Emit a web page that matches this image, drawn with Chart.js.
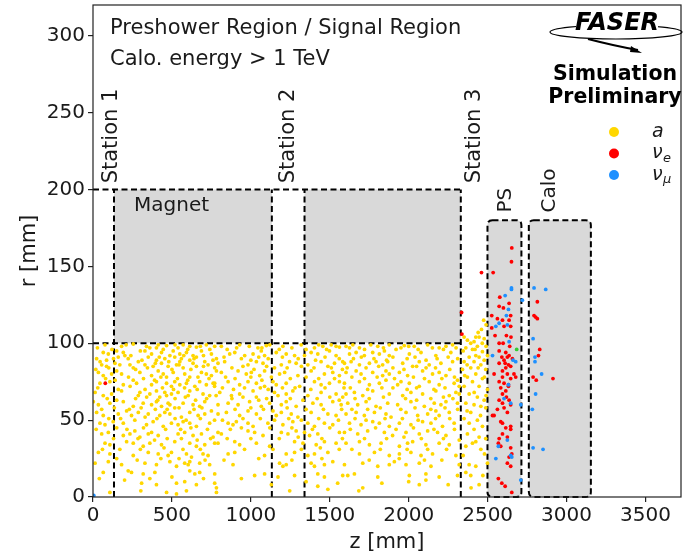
<!DOCTYPE html>
<html>
<head>
<meta charset="utf-8">
<script src="https://cdn.jsdelivr.net/npm/chart.js@4.4.1/dist/chart.umd.min.js"></script>
<style>
  html, body { margin: 0; padding: 0; background: #fff; }
  canvas { display: block; }
</style>
</head>
<body>
<canvas id="c" width="685" height="556"></canvas>
<script>
// ALP signal (a): [z, r] in mm
var aPoints = [
  [76,99],[181,98],[255,99.5],[339,98],[402,97],[413,99],[466,98.5],[539,97],[571,99],[613,98],[655,97.5],[718,99],[771,98],
  [65,94],[97,93],[150,95],[192,94],[202,92],[329,95],[371,93],[434,94],[487,92],[508,95],[550,93],[592,94],[634,92],[687,95],[750,93],
  [23,90],[86,89],[160,91],[223,90],[287,88],[350,91],[402,89],[455,90],[518,91],[550,88],[560,90],[613,89],[655,91],[708,88],[782,90],
  [55,86],[86,85],[139,87],[234,86],[255,84],[329,86],[381,85],[434,87],[476,85],[529,86],[571,84],[634,87],[655,85],[729,86],[771,84],
  [34,81],[65,79],[118,80],[150,82],[181,80],[297,81],[371,79],[413,82],[445,80],[466,78],[508,81],[581,80],[613,78],[687,81],[718,80],[750,79],[782,82],
  [44,74],[107,75],[192,73],[255,76],[276,74],[371,73],[402,75],[466,74],[497,72],[518,75],[550,73],[592,74],[645,72],[676,75],[718,73],[761,74],
  [13,68],[65,66],[118,67],[181,69],[287,66],[297,68],[360,67],[402,69],[423,65],[455,68],[466,66],[497,67],[539,68],[603,66],[613,69],[697,67],[739,66],
  [2,62],[34,60],[107,61],[192,62],[255,59],[318,61],[371,60],[402,62],[434,59],[476,61],[487,60],[518,58],[571,61],[634,60],[676,59],[708,62],[792,60],
  [23,55],[65,53],[160,54],[213,56],[244,53],[287,55],[350,54],[423,53],[455,55],[487,54],[560,52],[613,55],[666,53],[708,54],[750,56],
  [44,48],[76,47],[128,49],[192,48],[339,47],[381,49],[445,46],[497,48],[539,47],[571,49],[613,48],[655,46],[739,48],
  [55,41],[97,42],[192,40],[234,41],[265,43],[297,39],[350,41],[371,42],[413,40],[539,41],[581,42],[634,40],[687,41],[761,39],
  [76,35],[107,34],[213,36],[255,35],[318,33],[360,35],[434,34],[518,36],[613,35],[655,33],[708,34],[771,35],
  [34,29],[107,28],[255,27],[350,29],[413,28],[476,27],[497,29],[592,28],[624,26],[697,28],[729,27],
  [13,22],[97,23],[181,21],[329,22],[402,21],[487,23],[529,20],[581,22],[603,21],[613,23],[676,22],[739,21],
  [65,16],[223,17],[244,16],[318,15],[392,16],[613,17],[645,15],[676,16],[771,15],
  [308,9],[402,8],[529,9],[581,10],[655,8],[771,9],
  [107,3],[303,4],[466,3],[529,2],[592,4],[782,3],
  [28,97],[120,96],[210,99],[300,95],[360,97],[445,96],[520,99],[600,96],[680,98],[740,96],
  [45,88],[130,90],[240,92],[310,89],[420,91],[480,88],[575,92],[640,90],[700,92],[760,89],
  [18,83],[100,84],[170,86],[270,83],[345,84],[395,87],[500,83],[545,86],[620,83],[700,85],
  [80,77],[140,76],[225,78],[320,77],[390,76],[430,78],[535,77],[600,76],[665,78],[735,77],
  [30,71],[160,70],[235,72],[330,70],[440,71],[510,70],[580,71],[660,70],[770,72],
  [90,64],[150,63],[270,64],[340,65],[410,63],[520,64],[585,65],[650,63],[720,64],[780,66],
  [55,57],[135,58],[230,57],[305,58],[395,57],[470,57],[545,58],[640,57],[690,58],
  [100,51],[175,51],[265,50],[330,52],[405,51],[520,51],[590,50],[680,51],[770,50],
  [20,44],[150,45],[215,44],[320,45],[460,44],[555,44],[620,45],[725,44],
  [130,38],[285,38],[390,37],[470,38],[560,38],[660,37],[745,38],
  [60,31],[170,31],[300,31],[450,32],[570,31],[680,31],
  [150,25],[280,24],[430,25],[545,25],[710,24],
  [40,12],[200,11],[360,12],[500,13],[700,12],

  [813,98],[929,99],[1045,97],[1098,98.5],[1203,98],[1319,99],[1403,97],[1456,98],[1509,99],[1561,97.5],
  [866,93],[898,94],[961,92],[1014,93],[1066,95],[1087,92],[1161,94],[1224,93],[1277,92],[1382,94],[1424,93],[1498,95],[1540,92],
  [792,87],[834,88],[982,86],[1035,88],[1077,87],[1193,86],[1245,88],[1287,87],[1361,86],[1445,88],[1488,85],[1530,87],[1582,88],
  [813,81],[919,82],[971,80],[1003,81],[1056,79],[1087,82],[1182,80],[1214,81],[1298,79],[1382,82],[1466,80],[1519,81],[1561,79],
  [771,74],[856,75],[929,73],[982,75],[1035,74],[1087,72],[1140,75],[1161,73],[1224,74],[1309,72],[1403,75],[1445,73],[1498,74],[1561,75],
  [803,68],[877,66],[929,67],[1014,69],[1035,65],[1150,68],[1172,66],[1224,67],[1266,69],[1361,66],[1445,68],[1540,67],[1582,65],
  [856,61],[919,60],[992,62],[1066,59],[1119,61],[1193,60],[1224,62],[1287,59],[1393,61],[1445,60],[1519,62],[1572,60],
  [792,54],[845,55],[929,53],[982,56],[1035,54],[1161,53],[1193,55],[1256,54],[1298,52],[1382,55],[1488,54],[1540,53],
  [856,48],[887,47],[908,49],[982,48],[1014,46],[1108,48],[1203,47],[1266,49],[1361,48],[1403,46],[1466,48],[1519,47],
  [792,42],[813,41],[982,43],[1024,42],[1077,40],[1193,42],[1235,41],[1287,43],[1340,42],[1372,40],[1424,41],[1561,42],
  [792,35],[898,36],[929,34],[1035,35],[1119,33],[1277,36],[1330,35],[1414,34],[1466,36],[1540,35],
  [856,28],[898,29],[1087,27],[1224,28],[1277,29],[1361,27],[1403,28],[1488,29],
  [887,21],[1182,22],[1203,20],[1224,21],[1382,22],[1403,20],[1466,21],[1519,23],
  [1024,14],[1087,15],[1172,13],[1277,14],[1424,15],[1466,13],[1582,14],
  [782,6],[1246,4],[1424,7],[1488,5],
  [850,96],[910,97],[990,98],[1070,97],[1120,99],[1180,96],[1260,97],[1350,96],[1430,99],[1480,96],[1540,98],
  [830,91],[940,90],[1000,89],[1050,91],[1110,90],[1200,91],[1300,90],[1340,92],[1410,89],[1470,91],[1560,90],
  [880,84],[950,85],[1020,83],[1100,85],[1150,84],[1230,84],[1320,85],[1400,84],[1510,84],[1580,83],
  [840,78],[900,77],[1000,78],[1070,76],[1130,78],[1250,77],[1350,78],[1430,77],[1530,77],
  [820,71],[890,70],[960,71],[1060,71],[1110,70],[1200,71],[1280,71],[1380,70],[1470,71],[1590,71],
  [880,64],[950,65],[1050,63],[1100,64],[1250,64],[1330,63],[1420,64],[1500,65],[1560,63],
  [900,57],[1000,58],[1080,57],[1140,56],[1230,58],[1350,57],[1460,57],[1575,57],
  [820,50],[950,51],[1060,51],[1150,50],[1240,51],[1320,50],[1430,51],[1555,50],
  [870,44],[940,45],[1120,45],[1260,45],[1390,44],[1500,45],
  [850,38],[1000,38],[1180,38],[1300,39],[1450,38],[1580,38],
  [960,31],[1140,31],[1320,31],[1440,32],[1560,31],
  [830,24],[1050,25],[1260,24],[1450,25],
  [940,12],[1130,8],[1350,10],[1550,9],

  [1603,98],[1646,99],[1688,97],[1804,98],[1877,99],[1951,97],[1972,98.5],[2035,98],[2120,99],[2193,97],[2236,98],[2278,99],
  [1625,93],[1667,94],[1719,92],[1772,94],[1814,93],[1846,95],[1877,92],[2004,93],[2078,94],[2172,92],[2267,94],
  [1593,87],[1635,88],[1688,86],[1751,87],[1793,88],[1835,86],[1867,88],[1962,87],[2025,85],[2067,88],[2130,86],[2204,87],[2278,88],
  [1603,81],[1667,82],[1698,80],[1772,81],[1835,79],[1856,82],[1877,80],[1941,81],[1993,79],[2088,82],[2151,80],[2193,81],[2236,79],
  [1593,74],[1688,75],[1751,73],[1814,74],[1856,76],[1930,73],[1951,75],[2004,74],[2067,72],[2130,75],[2193,73],[2288,74],[2309,76],
  [1603,67],[1656,68],[1709,66],[1772,69],[1877,67],[1962,66],[2014,68],[2088,67],[2172,69],[2257,66],[2299,68],[2320,67],
  [1614,61],[1677,60],[1730,62],[1793,59],[1867,61],[1930,60],[2014,62],[2099,59],[2162,61],[2204,60],[2236,62],[2309,61],
  [1603,54],[1667,55],[1719,53],[1783,55],[1856,54],[1888,52],[1983,55],[2057,53],[2120,54],[2172,56],[2193,53],[2257,55],
  [1625,48],[1698,47],[1772,49],[1814,48],[1877,46],[1941,48],[2014,47],[2088,49],[2141,48],[2214,46],[2288,48],
  [1593,42],[1677,41],[1740,43],[1846,42],[1898,40],[1983,42],[2067,41],[2120,43],[2183,42],[2236,40],
  [1603,35],[1688,36],[1751,34],[1825,35],[1941,33],[1993,35],[2025,36],[2109,34],[2193,35],[2257,34],
  [1688,28],[1783,29],[1877,27],[1941,28],[2014,29],[2078,27],[2151,28],[2299,27],
  [1593,21],[1709,22],[1804,20],[1877,21],[1909,23],[1983,21],[2067,22],[2141,20],[2320,21],
  [1614,14],[1656,15],[1804,13],[2004,14],[2109,15],[2193,13],[2309,14],
  [1709,6],[2067,8],[2109,11],[1684,4],
  [1625,97],[1720,96],[1760,99],[1840,97],[1920,96],[2000,98],[2060,96],[2150,97],[2220,96],[2300,97],
  [1650,90],[1700,91],[1780,90],[1860,89],[1900,91],[1990,90],[2040,91],[2110,89],[2180,90],[2250,91],[2310,90],
  [1610,84],[1730,84],[1810,85],[1900,84],[1970,83],[2050,85],[2110,84],[2170,84],[2260,83],
  [1640,78],[1720,77],[1800,78],[1910,77],[2030,78],[2100,77],[2210,77],[2290,78],
  [1630,71],[1740,70],[1830,71],[1900,71],[1990,70],[2050,71],[2160,70],[2230,71],[2320,72],
  [1660,64],[1750,64],[1840,65],[1980,64],[2050,63],[2140,64],[2220,65],[2280,64],
  [1640,57],[1740,57],[1820,58],[1950,57],[2040,58],[2140,57],[2230,58],[2310,57],
  [1660,51],[1730,50],[1850,51],[1960,51],[2060,50],[2170,51],[2260,51],
  [1630,44],[1790,45],[1920,44],[2030,45],[2160,44],[2290,44],
  [1720,38],[1860,38],[1970,39],[2080,38],[2220,38],[2320,37],
  [1640,31],[1820,31],[1990,31],[2120,31],[2240,31],
  [1750,24],[1940,25],[2100,24],[2210,24],
  [1830,9],[2000,10],[2250,8],

  [2351,104],[2372,102],[2393,100],[2414,101],[2446,104],[2478,103],[2362,97],[2404,96],[2435,98],[2467,94.5],
  [2425,92],[2383,91],[2446,91],[2478,89],[2499,92],[2351,88],[2414,88],[2457,86],[2393,84],[2341,83],[2488,83],
  [2425,80],[2372,78],[2467,77],[2404,75],[2351,72],[2446,72],[2499,70],[2383,67],[2435,65],[2478,63],[2362,61],
  [2414,60],[2457,59],[2488,58],[2393,55],[2351,51],[2435,50],[2383,48],[2467,46],[2414,44],[2372,41],[2446,39],
  [2488,38],[2404,35],[2362,33],[2457,31],[2499,22],[2383,21],[2425,20],[2362,16],[2393,14],[2446,8],
  [2461,109],[2490,112],[2475,115],[2440,107],[2425,104],[2466,100],
  [2345,95],[2420,96],[2490,98],[2370,86],[2440,84],[2480,78],[2355,79],[2415,68],[2490,66],[2455,53],
  [2370,56],[2425,36],[2480,28],[2345,27],[2470,14],[2395,6]
];

// electron neutrino (nu_e)
var nuePoints = [
  [2653,162],[2651,153],[2461,146],[2535,146],[2577,130],[2636,126],[2573,124],[2600,123],[2526,118],[2646,118],
  [2562,116],[2594,115],[2636,115],[2526,110],[2604,111],[2646,111],[2547,105],[2619,105],[2648,104],[2573,100],
  [2598,100],[2640,98],[2573,95],[2615,94],[2636,92],[2590,91],[2625,91],[2657,90],[2604,89],[2573,87],
  [2611,87],[2632,86],[2646,85],[2615,84],[2594,82],[2541,80],[2625,80],[2667,80],[2678,78],[2594,78],[2646,77],
  [2573,75],[2604,74],[2632,73],[2632,72],[2583,71],[2615,69],[2594,67],[2619,65],[2573,63],[2636,63],[2594,61],
  [2646,60],[2604,58],[2562,57],[2625,55],[2531,53],[2541,53],[2583,49],[2594,48],[2646,46],[2615,45],[2646,44],
  [2594,41],[2625,39],[2573,38],[2568,35],[2583,33],[2646,32],[2653,28],[2636,26],[2625,22],[2646,20],
  [2568,12],[2590,9],[2611,7],[2653,3],
  [2335,120],[2337,106],[78,74],
  [2815,127],[2794,118],[2804,117],[2815,116],[2830,96],[2822,92],[2788,78],[2808,76],[2914,77]
];

// muon neutrino (nu_mu)
var numuPoints = [
  [2651,136],[2651,135],[2611,131],[2720,128],[2632,122],[2619,118],[2573,113],[2552,111],[2625,112],[2636,101],
  [2531,92],[2678,88],[2661,89],[2632,73],[2646,61],[2604,64],[2710,60],[2625,37],[2568,33],[2552,25],[2646,27],
  [2710,11],[2653,26],
  [2794,136],[2868,135],[2788,103],[2800,91],[2800,88],[2842,80],[2804,67],[2783,57],[2788,32],[2851,31],
  [5,1]
];

// one stray event of another kind
var otherPoints = [[2684,96]];

// detector layout (mm)
var stationZ = [133, 1133, 1340, 2330];
var magnetZ = [[133, 1133], [1340, 2330]];
var boxPS = [2499, 2714];
var boxCalo = [2761, 3154];

var xTicks = [0, 500, 1000, 1500, 2000, 2500, 3000, 3500];
var yTicks = [0, 50, 100, 150, 200, 250, 300];

var FONT = "'DejaVu Sans', sans-serif";

function toXY(list) {
  return list.map(function (p) { return { x: p[0], y: p[1] } });
}

function dashed(ctx, x0, y0, x1, y1) {
  ctx.beginPath();
  ctx.moveTo(x0, y0);
  ctx.lineTo(x1, y1);
  ctx.stroke();
}

function roundBox(ctx, x0, y0, x1, y1, rad) {
  ctx.beginPath();
  ctx.moveTo(x0 + rad, y0);
  ctx.lineTo(x1 - rad, y0);
  ctx.quadraticCurveTo(x1, y0, x1, y0 + rad);
  ctx.lineTo(x1, y1 - rad);
  ctx.quadraticCurveTo(x1, y1, x1 - rad, y1);
  ctx.lineTo(x0 + rad, y1);
  ctx.quadraticCurveTo(x0, y1, x0, y1 - rad);
  ctx.lineTo(x0, y0 + rad);
  ctx.quadraticCurveTo(x0, y0, x0 + rad, y0);
  ctx.closePath();
}

function vText(ctx, txt, x, y) {
  ctx.save();
  ctx.translate(x, y);
  ctx.rotate(-Math.PI / 2);
  ctx.textAlign = 'left';
  ctx.textBaseline = 'middle';
  ctx.fillText(txt, 0, 0);
  ctx.restore();
}

var detector = {
  id: 'detector',
  beforeDatasetsDraw: function (chart) {
    var ctx = chart.ctx;
    var x = chart.scales.x, y = chart.scales.y;
    ctx.save();
    // grey volumes
    ctx.fillStyle = '#d9d9d9';
    magnetZ.forEach(function (m) {
      ctx.fillRect(x.getPixelForValue(m[0]), y.getPixelForValue(200),
        x.getPixelForValue(m[1]) - x.getPixelForValue(m[0]), y.getPixelForValue(100) - y.getPixelForValue(200));
    });
    [boxPS, boxCalo].forEach(function (b) {
      roundBox(ctx, x.getPixelForValue(b[0]), y.getPixelForValue(180), x.getPixelForValue(b[1]), y.getPixelForValue(0), 5);
      ctx.fill();
    });
    // dashed outlines
    ctx.strokeStyle = '#000';
    ctx.lineWidth = 2;
    ctx.setLineDash([6, 3.5]);
    [100, 200].forEach(function (r) {
      dashed(ctx, x.getPixelForValue(0), y.getPixelForValue(r), x.getPixelForValue(2330), y.getPixelForValue(r));
    });
    stationZ.forEach(function (z) {
      dashed(ctx, x.getPixelForValue(z), y.getPixelForValue(0), x.getPixelForValue(z), y.getPixelForValue(200));
    });
    [boxPS, boxCalo].forEach(function (b) {
      roundBox(ctx, x.getPixelForValue(b[0]), y.getPixelForValue(180), x.getPixelForValue(b[1]), y.getPixelForValue(0), 5);
      ctx.stroke();
    });
    ctx.restore();
  },
  afterDraw: function (chart) {
    var ctx = chart.ctx;
    var a = chart.chartArea;
    var x = chart.scales.x, y = chart.scales.y;
    ctx.save();
    // frame
    ctx.strokeStyle = '#222';
    ctx.lineWidth = 1.2;
    ctx.strokeRect(a.left, a.top, a.right - a.left, a.bottom - a.top);

    ctx.fillStyle = '#1a1a1a';
    ctx.font = '21px ' + FONT;
    ctx.textAlign = 'left';
    ctx.textBaseline = 'middle';
    ctx.fillText('Preshower Region / Signal Region', 110, 29);
    ctx.fillText('Calo. energy > 1 TeV', 110, 60);
    ctx.font = '20px ' + FONT;
    ctx.fillText('Magnet', 134, 206);

    // rotated labels
    ctx.font = '21px ' + FONT;
    vText(ctx, 'Station 1', 112, y.getPixelForValue(204));
    vText(ctx, 'Station 2', x.getPixelForValue(1236), y.getPixelForValue(204));
    vText(ctx, 'Station 3', x.getPixelForValue(2417), y.getPixelForValue(204));
    ctx.font = '20px ' + FONT;
    vText(ctx, 'PS', x.getPixelForValue(2615), y.getPixelForValue(185));
    vText(ctx, 'Calo', x.getPixelForValue(2895), y.getPixelForValue(185));

    // FASER logo
    ctx.strokeStyle = '#000';
    ctx.lineWidth = 1.2;
    ctx.beginPath();
    ctx.ellipse(616, 32, 66, 7, 0, 0, Math.PI * 2);
    ctx.stroke();
    ctx.fillStyle = '#fff';
    ctx.fillRect(576, 14, 82, 20);
    ctx.fillStyle = '#000';
    ctx.font = 'italic bold 24px ' + FONT;
    ctx.textAlign = 'center';
    ctx.fillText('FASER', 617, 24);
    ctx.lineWidth = 2;
    ctx.beginPath();
    ctx.moveTo(588, 39);
    ctx.quadraticCurveTo(615, 46, 638, 50);
    ctx.stroke();
    ctx.beginPath();
    ctx.moveTo(642, 53);
    ctx.lineTo(631, 46);
    ctx.lineTo(630, 52);
    ctx.closePath();
    ctx.fill();

    ctx.font = 'bold 20.5px ' + FONT;
    ctx.fillStyle = '#000';
    ctx.fillText('Simulation', 615, 75);
    ctx.fillText('Preliminary', 615, 98);

    // legend
    var leg = [['#FFD700', 'a', ''], ['#FF0000', '\u03bd', 'e'], ['#1E90FF', '\u03bd', '\u03bc']];
    leg.forEach(function (l, i) {
      var ly = 132 + i * 21.5;
      ctx.fillStyle = l[0];
      ctx.beginPath();
      ctx.arc(614, ly, 5, 0, Math.PI * 2);
      ctx.fill();
      ctx.fillStyle = '#1a1a1a';
      ctx.textAlign = 'left';
      ctx.font = 'italic 19px ' + FONT;
      ctx.fillText(l[1], 652, ly);
      if (l[2]) {
        ctx.font = 'italic 13px ' + FONT;
        ctx.fillText(l[2], 663, ly + 5);
      }
    });
    ctx.restore();
  }
};

new Chart(document.getElementById('c'), {
  type: 'scatter',
  data: {
    datasets: [
      { label: 'a', data: toXY(aPoints), backgroundColor: '#FFD700', borderWidth: 0, pointRadius: 1.9, order: 3 },
      { label: 'nue', data: toXY(nuePoints), backgroundColor: '#FF0000', borderWidth: 0, pointRadius: 1.9, order: 2 },
      { label: 'numu', data: toXY(numuPoints), backgroundColor: '#1E90FF', borderWidth: 0, pointRadius: 1.9, order: 1 },
      { label: 'other', data: toXY(otherPoints), backgroundColor: '#32CD32', borderWidth: 0, pointRadius: 1.9, order: 0 }
    ]
  },
  options: {
    responsive: false,
    animation: false,
    devicePixelRatio: 1,
    layout: { padding: { top: 5, right: 2, left: 0, bottom: 0 } },
    plugins: { legend: { display: false }, tooltip: { enabled: false } },
    scales: {
      x: {
        type: 'linear',
        min: 0,
        max: 3725,
        afterFit: function (s) { s.height = 59; s.paddingLeft = 0; s.paddingRight = 0 },
        afterBuildTicks: function (s) { s.ticks = xTicks.map(function (v) { return { value: v } }) },
        ticks: {
          color: '#1a1a1a', font: { family: FONT, size: 20 }, padding: 2, maxRotation: 0, autoSkip: false,
          callback: function (v) { return String(v) }
        },
        grid: { drawOnChartArea: false, drawTicks: true, tickLength: 5, color: '#222', lineWidth: 1.2 },
        border: { display: false },
        title: { display: true, text: 'z [mm]', color: '#1a1a1a', font: { family: FONT, size: 21 }, padding: { top: 0, bottom: 1 } }
      },
      y: {
        type: 'linear',
        min: 0,
        max: 320,
        afterFit: function (s) { s.width = 93; s.paddingTop = 0; s.paddingBottom = 0 },
        afterBuildTicks: function (s) { s.ticks = yTicks.map(function (v) { return { value: v } }) },
        ticks: { color: '#1a1a1a', font: { family: FONT, size: 20 }, padding: 3 },
        grid: { drawOnChartArea: false, drawTicks: true, tickLength: 5, color: '#222', lineWidth: 1.2 },
        border: { display: false },
        title: { display: true, text: 'r [mm]', color: '#1a1a1a', font: { family: FONT, size: 21 }, padding: { top: 17, bottom: 0 } }
      }
    }
  },
  plugins: [detector]
});
</script>
</body>
</html>
